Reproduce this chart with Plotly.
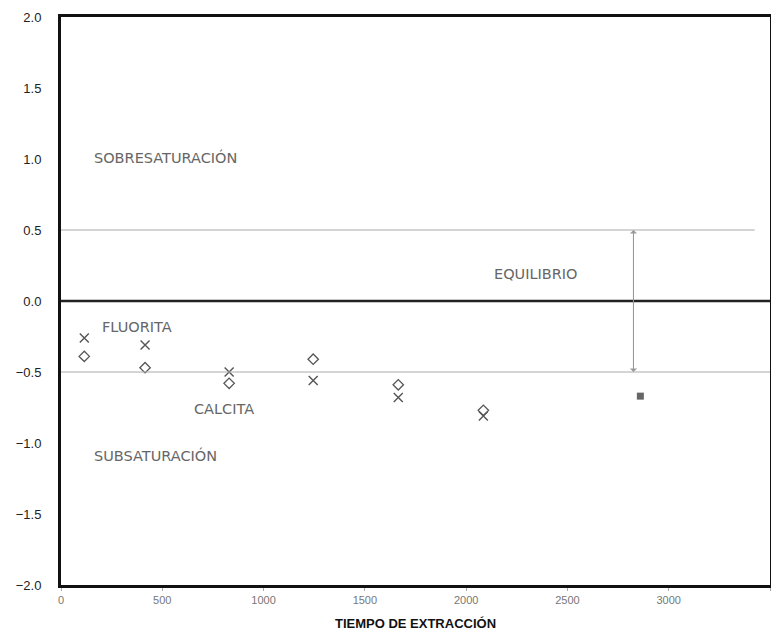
import plotly.graph_objects as go

# Índices de saturación frente al tiempo de extracción
tiempo_fluorita = [115, 415, 830, 1245, 1665, 2085]
si_fluorita = [-0.26, -0.31, -0.50, -0.56, -0.68, -0.81]

tiempo_calcita = [115, 415, 830, 1245, 1665, 2085]
si_calcita = [-0.39, -0.47, -0.58, -0.41, -0.59, -0.77]

tiempo_extra = [2860]
si_extra = [-0.67]

x_ticks = [0, 500, 1000, 1500, 2000, 2500, 3000, 3500]
y_ticks = [-2.0, -1.5, -1.0, -0.5, 0.0, 0.5, 1.0, 1.5, 2.0]

GRIS = "#555555"
FUENTE = "DejaVu Sans, Arial"

fig = go.Figure()

fig.add_trace(go.Scatter(
    x=tiempo_fluorita, y=si_fluorita, mode="markers", name="Fluorita",
    marker=dict(symbol="x-thin-open", size=9, color=GRIS, line=dict(color=GRIS, width=1.4)),
))
fig.add_trace(go.Scatter(
    x=tiempo_calcita, y=si_calcita, mode="markers", name="Calcita",
    marker=dict(symbol="diamond-open", size=8, color=GRIS, line=dict(color=GRIS, width=1.3)),
))
fig.add_trace(go.Scatter(
    x=tiempo_extra, y=si_extra, mode="markers", name="",
    marker=dict(symbol="square", size=7, color="#666666"),
))

# Líneas de equilibrio
fig.add_shape(type="line", x0=0, x1=3425, y0=0.5, y1=0.5, line=dict(color="#aaaaaa", width=1))
fig.add_shape(type="line", x0=0, x1=3500, y0=-0.5, y1=-0.5, line=dict(color="#aaaaaa", width=1))
fig.add_shape(type="line", x0=0, x1=3500, y0=0, y1=0, line=dict(color="#222222", width=2.5))

# Flecha doble de equilibrio
for y_ini, y_fin in [(-0.5, 0.5), (0.5, -0.5)]:
    fig.add_annotation(
        x=2826, y=y_fin, ax=2826, ay=y_ini, xref="x", yref="y", axref="x", ayref="y",
        showarrow=True, arrowhead=1, arrowsize=1.2, arrowwidth=1, arrowcolor="#999999", text="",
    )

textos = [
    ("SOBRESATURACIÓN", 153, 1.01),
    ("EQUILIBRIO", 2127, 0.19),
    ("FLUORITA", 193, -0.18),
    ("CALCITA", 647, -0.76),
    ("SUBSATURACIÓN", 153, -1.09),
]
for t, x, y in textos:
    fig.add_annotation(
        text=t, x=x, y=y, xref="x", yref="y", showarrow=False, xanchor="left",
        font=dict(family=FUENTE, size=14.5, color="#666666"),
    )

fig.update_layout(
    width=763, height=623,
    margin=dict(l=53, r=1, t=9, b=46),
    showlegend=False,
    plot_bgcolor="white", paper_bgcolor="white",
    xaxis=dict(
        range=[0, 3500], tickvals=x_ticks, showgrid=False, zeroline=False, automargin=False,
        showline=True, mirror=True, linecolor="#111111", linewidth=3,
        ticks="outside", ticklen=3, tickcolor="#aaaaaa",
        tickfont=dict(family="Liberation Sans Narrow, Arial", size=11, color="#777777"),
        title=dict(text="<b>TIEMPO DE EXTRACCIÓN</b>", standoff=16,
                   font=dict(family="Liberation Sans Narrow, Arial", size=13, color="#111111")),
    ),
    yaxis=dict(
        range=[-2.0, 2.0], tickvals=y_ticks, tickformat=".1f", showgrid=False, zeroline=False,
        automargin=False, showline=True, mirror=True, linecolor="#111111", linewidth=3,
        ticks="", ticklabelstandoff=14,
        tickfont=dict(family="Liberation Sans, Arial", size=13, color="#222222"),
    ),
)

fig.write_html("out.html")
